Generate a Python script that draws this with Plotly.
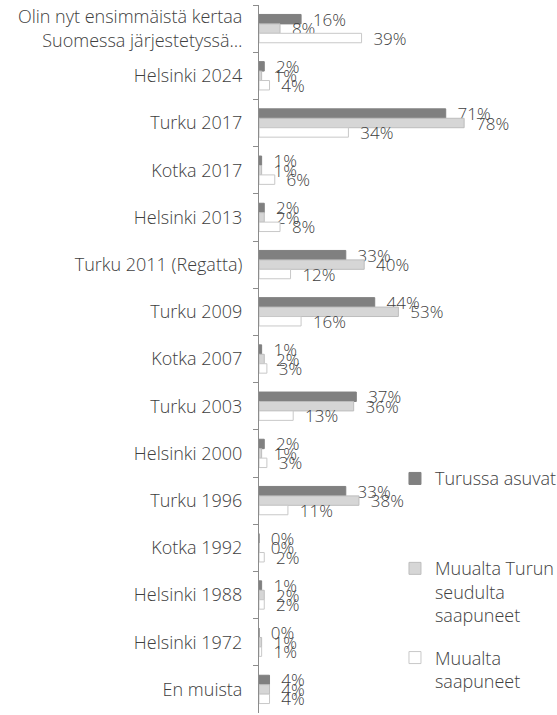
import plotly.graph_objects as go

# Categories (top to bottom) and shares for each group
categories = [
    "Olin nyt ensimmäistä kertaa<br>Suomessa järjestetyssä…",
    "Helsinki 2024", "Turku 2017", "Kotka 2017", "Helsinki 2013",
    "Turku 2011 (Regatta)", "Turku 2009", "Kotka 2007", "Turku 2003",
    "Helsinki 2000", "Turku 1996", "Kotka 1992", "Helsinki 1988",
    "Helsinki 1972", "En muista",
]
turussa = [16, 2, 71, 1, 2, 33, 44, 1, 37, 2, 33, 0, 1, 0, 4]
seudulta = [8, 1, 78, 1, 2, 40, 53, 2, 36, 1, 38, 0, 2, 1, 4]
muualta = [39, 4, 34, 6, 8, 12, 16, 3, 13, 3, 11, 2, 2, 1, 4]

series = [
    ("Turussa asuvat", turussa, "#808080", "#808080"),
    ("Muualta Turun<br>seudulta<br>saapuneet", seudulta, "#d6d6d6", "#bdbdbd"),
    ("Muualta<br>saapuneet", muualta, "#ffffff", "#c8c8c8"),
]

fnt = "'Open Sans', Lato, sans-serif"
txt = "#404040"
fs = 18
fig = go.Figure()

legend_names = ["legend", "legend2", "legend3"]
for i, (name, vals, fill, edge) in enumerate(series):
    fig.add_trace(go.Bar(
        y=categories, x=[v / 100 for v in vals], orientation="h", name=name,
        legend=legend_names[i],
        marker=dict(color=fill, line=dict(color=edge, width=1)),
        text=["\u00a0\u00a0" + str(v) + "%" for v in vals],
        textposition="outside", cliponaxis=False, constraintext="none",
        textfont=dict(family=fnt, size=17, color=txt, weight=300),
    ))

leg = dict(x=0.517, xanchor="left", yanchor="top", valign="top",
           font=dict(family=fnt, size=fs, color=txt, weight=300),
           bgcolor="rgba(0,0,0,0)")

fig.update_layout(
    width=557, height=715,
    margin=dict(l=259, r=35, t=5, b=2, autoexpand=False),
    barmode="group", bargap=0.4, bargroupgap=0,
    plot_bgcolor="white", paper_bgcolor="white",
    font=dict(family=fnt, size=fs, color=txt, weight=300),
    showlegend=True,
    legend=dict(leg, y=0.357),
    legend2=dict(leg, y=0.230),
    legend3=dict(leg, y=0.104),
)
fig.update_xaxes(visible=False, range=[0, 1], automargin=False)
fig.update_yaxes(type="category", autorange="reversed", showline=True,
                 linecolor="#8c8c8c", linewidth=1, ticks="outside",
                 tickson="boundaries", ticklen=5, tickcolor="#8c8c8c",
                 showgrid=False, automargin=False, ticklabelstandoff=12,
                 tickfont=dict(family=fnt, size=fs, color=txt, weight=300))

# drop the default page margin so the figure sits at the top-left corner
fig.write_html("out.html", config={"displayModeBar": False},
               post_script="document.body.style.margin='0';")
